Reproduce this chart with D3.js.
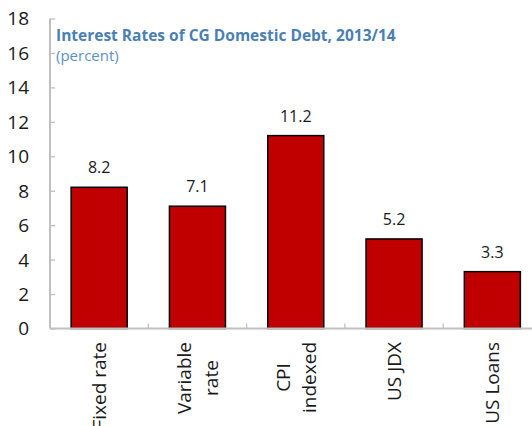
<!DOCTYPE html>
<html>
<head>
<meta charset="utf-8">
<script src="https://cdn.jsdelivr.net/npm/d3@7"></script>
<style>
  html, body { margin: 0; padding: 0; background: #fff; }
  svg { display: block; }
</style>
</head>
<body>
<svg id="chart" width="532" height="426"></svg>
<script>
const categories = [["Fixed rate"], ["Variable", "rate"], ["CPI", "indexed"], ["US JDX"], ["US Loans"]];
const values = [8.2, 7.1, 11.2, 5.2, 3.3];
const valueLabels = ["8.2", "7.1", "11.2", "5.2", "3.3"];
const yTicks = [0, 2, 4, 6, 8, 10, 12, 14, 16, 18];
const title = "Interest Rates of CG Domestic Debt, 2013/14";
const subtitle = "(percent)";

const svg = d3.select("#chart");
const font = "'Open Sans', sans-serif";
const keys = categories.map((c, i) => i);

const x = d3.scaleBand().domain(keys).range([50, 541.5]).paddingInner(0.43).paddingOuter(0.215);
const y = d3.scaleLinear().domain([0, 18]).range([328.5, 18.5]);

// y axis
const yAxis = d3.axisLeft(y).tickValues(yTicks).tickSize(-5).tickPadding(21).tickFormat(d3.format("d"));
const gy = svg.append("g").attr("transform", "translate(50,0)").call(yAxis);
gy.select(".domain").attr("stroke", "#c0c0c0").attr("stroke-width", 2).attr("d", `M0,${y(18)}V${y(0)}`);
gy.selectAll(".tick line").attr("stroke", "#c0c0c0").attr("stroke-width", 1.3);
gy.selectAll(".tick text").attr("font-family", font).attr("font-size", 19).attr("fill", "#1a1a1a").attr("dy", "0.34em");

// bars
svg.append("g").selectAll("rect").data(values).join("rect")
  .attr("x", (d, i) => x(i))
  .attr("y", d => y(d))
  .attr("width", x.bandwidth())
  .attr("height", d => y(0) - y(d))
  .attr("fill", "#c00000")
  .attr("stroke", "#000")
  .attr("stroke-width", 1.5);

// x axis
const xTickPos = d3.range(0, categories.length + 1).map(i => x.range()[0] + i * x.step());
svg.append("line").attr("x1", 50).attr("x2", 532).attr("y1", y(0)).attr("y2", y(0))
  .attr("stroke", "#c0c0c0").attr("stroke-width", 2);
svg.append("g").selectAll("line").data(xTickPos.slice(1)).join("line")
  .attr("x1", d => d).attr("x2", d => d).attr("y1", y(0)).attr("y2", y(0) - 5)
  .attr("stroke", "#c0c0c0").attr("stroke-width", 1.3);

// value labels
svg.append("g").selectAll("text").data(values).join("text")
  .attr("x", (d, i) => x(i) + x.bandwidth() / 2)
  .attr("y", d => y(d) - 14)
  .attr("text-anchor", "middle")
  .attr("font-family", font).attr("font-size", 16).attr("fill", "#1a1a1a")
  .text((d, i) => valueLabels[i]);

// category labels (rotated, centered lines, block top at axis)
const lineH = 26.5;
const labelTop = 342;
const catG = svg.append("g");
categories.forEach((lines, i) => {
  const cx = x(i) + x.bandwidth() / 2;
  const n = lines.length;
  const tmp = catG.append("g");
  const texts = lines.map((s, j) => tmp.append("text")
      .attr("font-family", font).attr("font-size", 19).attr("fill", "#1a1a1a")
      .attr("text-anchor", "middle").text(s));
  const maxW = d3.max(texts, t => t.node().getComputedTextLength());
  const centerAlong = labelTop + maxW / 2;
  texts.forEach((t, j) => {
    const bx = cx + 7 + (j - (n - 1) / 2) * lineH;
    t.attr("transform", `translate(${bx},${centerAlong}) rotate(-90)`);
  });
});

// title
svg.append("text").attr("x", 56).attr("y", 40.5)
  .attr("font-family", font).attr("font-weight", "bold").attr("font-size", 15.5)
  .attr("fill", "#4a7fb5").text(title);
svg.append("text").attr("x", 56).attr("y", 61)
  .attr("font-family", font).attr("font-size", 15)
  .attr("fill", "#5b8fc7").text(subtitle);
</script>
</body>
</html>
